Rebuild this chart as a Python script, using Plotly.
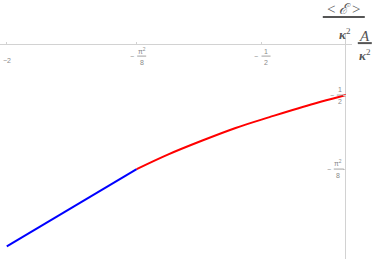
import plotly.graph_objects as go

# ---- data ----
blue_x = [-2.0, -1.2337]
blue_y = [-2.0, -1.2337]
red_x = [-1.2337, -1.05, -0.85, -0.65, -0.45, -0.25, 0.0]
red_y = [-1.2337, -1.090, -0.953, -0.826, -0.719, -0.616, -0.5]

x_tick_vals = [-2.0, -1.2337, -0.5]
x_tick_num = ["2", "π<sup>2</sup>", "1"]
x_tick_den = [None, "8", "2"]
y_tick_vals = [-0.5, -1.2337]
y_tick_num = ["1", "π<sup>2</sup>"]
y_tick_den = ["2", "8"]

X_RANGE = [-2.040, 0.0366]
Y_RANGE = [-2.125, 0.115]

AX = "#d2d2d2"
TK = "#8a8a8a"
LB = "#555555"


def fx(v):
    return (v - X_RANGE[0]) / (X_RANGE[1] - X_RANGE[0])


def fy(v):
    return (v - Y_RANGE[0]) / (Y_RANGE[1] - Y_RANGE[0])


fig = go.Figure()
fig.add_trace(go.Scatter(x=blue_x, y=blue_y, mode="lines",
                         line=dict(color="#0000ff", width=2), showlegend=False))
fig.add_trace(go.Scatter(x=red_x, y=red_y, mode="lines",
                         line=dict(color="#ff0000", width=2, shape="spline", smoothing=1.0),
                         showlegend=False))

annos = []
shapes = []
tfont = dict(family="Liberation Sans", size=7, color=TK)


def txt(x, y, t, xs, ys, font):
    annos.append(dict(x=x, y=y, xref="x", yref="y", text=t, showarrow=False,
                      xanchor="center", yanchor="middle", xshift=xs, yshift=ys,
                      font=font))


def bar(x, y, x0, x1, yo, color, w):
    shapes.append(dict(type="line", xref="x domain", yref="y domain",
                       xsizemode="pixel", ysizemode="pixel",
                       xanchor=fx(x), yanchor=fy(y), x0=x0, x1=x1, y0=yo, y1=yo,
                       line=dict(color=color, width=w)))


# x tick labels (below horizontal axis)
for v, n, d in zip(x_tick_vals, x_tick_num, x_tick_den):
    if d is None:
        txt(v, 0, "−" + n, 0, -16, tfont)
    else:
        txt(v, 0, "−", -5, -11.5, tfont)
        txt(v, 0, n, 5, -6.5, tfont)
        bar(v, 0, 0.5, 9.5, -11.5, TK, 0.8)
        txt(v, 0, d, 5, -17.5, tfont)

# y tick labels (left of vertical axis)
for v, n, d in zip(y_tick_vals, y_tick_num, y_tick_den):
    wid = 10 if "π" in n else 7
    txt(0, v, "−", -wid - 7, 0, tfont)
    txt(0, v, n, -wid / 2 - 2.5, 6, tfont)
    bar(0, v, -wid - 2, -2, 0, TK, 0.8)
    txt(0, v, d, -wid / 2 - 2.5, -6.5, tfont)

# axis labels
sfont = dict(family="Liberation Serif", size=15, color=LB)
kfont = dict(family="Liberation Serif", size=13, color=LB)
# y label: <E>/kappa^2 at top of vertical axis
txt(0, 0, "&lt; <i>ℰ</i> &gt;", -2, 36, sfont)
bar(0, 0, -23, 19, 27.5, LB, 2)
txt(0, 0, "<b><i>κ</i></b><sup>2</sup>", -1, 11, kfont)
# x label: A/kappa^2 at right end of horizontal axis
txt(0, 0, "<i>A</i>", 19, 9, sfont)
bar(0, 0, 12, 26, 1.5, LB, 2)
txt(0, 0, "<b><i>κ</i></b><sup>2</sup>", 19, -10, kfont)

fig.update_layout(
    width=374, height=259,
    margin=dict(l=0, r=22, t=33, b=0),
    paper_bgcolor="white", plot_bgcolor="white",
    annotations=annos, shapes=shapes,
)
fig.update_xaxes(range=X_RANGE, showgrid=False, showline=False,
                 zeroline=True, zerolinecolor=AX, zerolinewidth=1,
                 anchor="free", position=fy(0), side="bottom",
                 ticks="inside", ticklen=3, tickcolor=AX, tickvals=x_tick_vals,
                 showticklabels=False)
fig.update_yaxes(range=Y_RANGE, showgrid=False, showline=False,
                 zeroline=True, zerolinecolor=AX, zerolinewidth=1,
                 anchor="free", position=fx(0), side="left",
                 ticks="outside", ticklen=3, tickcolor=AX, tickvals=y_tick_vals,
                 showticklabels=False)

fig.write_html("out.html", config={"displayModeBar": False},
               post_script="document.body.style.margin='0';document.body.style.overflow='hidden';")
